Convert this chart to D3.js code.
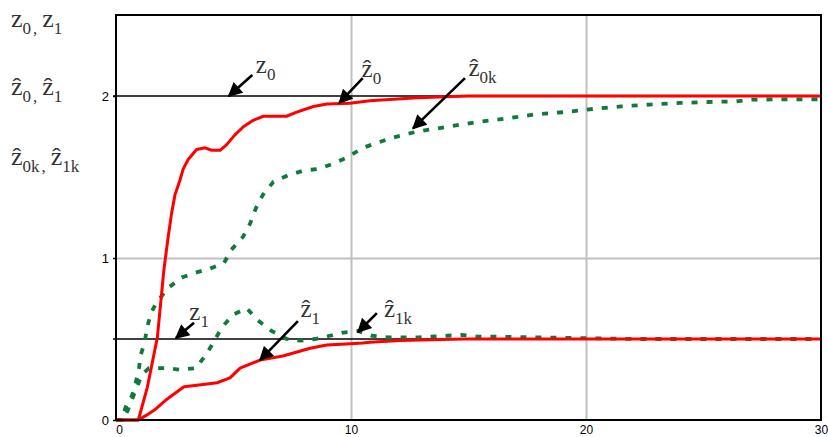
<!DOCTYPE html>
<html><head><meta charset="utf-8">
<script src="https://cdn.jsdelivr.net/npm/d3@7"></script>
<style>
body{margin:0;background:#fff;}
svg{display:block;}
</style></head>
<body>
<svg id="c" width="828" height="437"></svg>
<script>
// ---- data ----
const xTicks = [0, 10, 20, 30];
const yTicks = [0, 1, 2];
const z0Level = 2.0;
const z1Level = 0.5;
// z0 hat (red, upper)
const z0hatT = [0,0.95,1.33,1.76,2.04,2.22,2.37,2.51,2.72,2.86,3.08,3.43,3.79,4.07,4.43,4.71,5.06,5.42,5.84,6.27,7.26,7.69,8.4,8.97,9.96,10.8,12.65,14.0,15.0,30];
const z0hatV = [0,0,0.2,0.51,0.93,1.13,1.28,1.39,1.48,1.55,1.61,1.67,1.68,1.665,1.665,1.70,1.76,1.81,1.85,1.875,1.875,1.90,1.935,1.95,1.955,1.97,1.988,1.995,2.0,2.0];
// z1 hat (red, lower)
const z1hatT = [0,0.95,1.3,1.62,2.18,2.89,3.53,4.3,4.85,5.28,6.13,7.1,8.26,8.97,9.8,10.5,10.8,12.1,14.8,30];
const z1hatV = [0,0,0.03,0.06,0.13,0.205,0.216,0.23,0.26,0.32,0.37,0.395,0.443,0.463,0.469,0.475,0.48,0.49,0.5,0.5];
// z0k hat (green dashed, upper)
const z0kT = [0,0.25,0.41,0.68,0.84,0.98,1.05,1.22,1.32,1.49,1.74,2.26,2.8,3.4,4.0,4.6,4.9,5.4,5.7,5.96,6.25,6.7,7.3,8.0,8.6,9.2,9.83,10.5,11.7,12.8,14.1,15.4,16.55,17.76,19.04,20.3,21.5,22.7,24.0,25.2,26.4,27.05,30];
const z0kV = [0,0,0.08,0.15,0.23,0.32,0.40,0.48,0.57,0.66,0.73,0.82,0.88,0.91,0.935,0.97,1.05,1.13,1.21,1.31,1.39,1.47,1.51,1.54,1.55,1.58,1.62,1.68,1.74,1.78,1.81,1.84,1.86,1.885,1.90,1.92,1.936,1.947,1.957,1.963,1.967,1.978,1.98];
// z1k hat (green dashed, lower)
const z1kT = [0,0.3,0.5,0.8,1.1,1.4,1.62,2.18,2.75,3.39,3.82,4.15,4.5,4.98,5.56,6.04,6.62,7.26,7.83,8.47,9.1,9.67,10.3,10.9,11.6,12.9,13.4,14.1,14.7,15.4,16,18,20,22,30];
const z1kV = [0,0,0.06,0.17,0.28,0.32,0.32,0.32,0.31,0.32,0.40,0.48,0.57,0.65,0.69,0.615,0.55,0.50,0.49,0.50,0.52,0.54,0.55,0.52,0.51,0.51,0.515,0.52,0.525,0.515,0.515,0.51,0.505,0.5,0.5];
// annotations
const annNames = ["z0","z0hat","z0khat","z1","z1hat","z1khat"];
const annSub   = ["0","0","0k","1","1","1k"];
const annHat   = [false,true,true,false,true,true];
const annTip   = [[4.8,2.0],[9.5,1.957],[12.64,1.80],[2.55,0.506],[6.13,0.37],[10.3,0.543]];
const annTail  = [[5.8,2.13],[10.5,2.11],[14.85,2.11],[3.32,0.60],[7.74,0.61],[11.1,0.66]];
const annLabel = [[5.95,2.14],[10.45,2.12],[15.0,2.125],[3.12,0.62],[7.85,0.635],[11.4,0.635]];
// left-hand axis titles
const leftRows = [["z","0","z","1"],["ẑ","0","ẑ","1"],["ẑ","0k","ẑ","1k"]];

// ---- drawing ----
const svg = d3.select("#c");
const x = d3.scaleLinear().domain([0,30]).range([116,821]);
const y = d3.scaleLinear().domain([0,2.5]).range([420,15]);
const serif = "'Liberation Serif','DejaVu Serif',serif";
const sans = "'Liberation Sans',Arial,sans-serif";

// gridlines
svg.append("g").attr("transform","translate(0,420)")
  .call(d3.axisBottom(x).tickValues([10,20]).tickSize(-405).tickFormat(""))
  .call(g=>{g.select(".domain").remove();g.selectAll("line").attr("stroke","#c0c0c0").attr("stroke-width",2);});
svg.append("g").attr("transform","translate(116,0)")
  .call(d3.axisLeft(y).tickValues([1]).tickSize(-705).tickFormat(""))
  .call(g=>{g.select(".domain").remove();g.selectAll("line").attr("stroke","#c0c0c0").attr("stroke-width",2);});

// constant reference lines
[z0Level,z1Level].forEach(v=>{
  svg.append("line").attr("x1",x(0)-3).attr("x2",x(30)).attr("y1",y(v)).attr("y2",y(v))
    .attr("stroke","#000").attr("stroke-width",1.6);
});

const line = d3.line().x(d=>x(d[0])).y(d=>y(d[1]));
const zipTV = (T,V)=>T.map((t,i)=>[t,V[i]]);

// green dashed
[[z0kT,z0kV],[z1kT,z1kV]].forEach(([T,V])=>{
  svg.append("path").attr("d",line(zipTV(T,V))).attr("fill","none")
    .attr("stroke","#0f7a3c").attr("stroke-width",3.8).attr("stroke-dasharray","6,9");
});
// red solid
[[z0hatT,z0hatV],[z1hatT,z1hatV]].forEach(([T,V])=>{
  svg.append("path").attr("d",line(zipTV(T,V))).attr("fill","none")
    .attr("stroke","#ff0000").attr("stroke-width",3).attr("stroke-linejoin","round");
});

// frame
svg.append("rect").attr("x",x(0)).attr("y",y(2.5)).attr("width",x(30)-x(0)).attr("height",y(0)-y(2.5))
  .attr("fill","none").attr("stroke","#000").attr("stroke-width",2);

// axes labels
const xa = svg.append("g").attr("transform","translate(0,420)")
  .call(d3.axisBottom(x).tickValues(xTicks).tickSize(0).tickPadding(5).tickFormat(d3.format("d")));
xa.select(".domain").remove();
xa.selectAll("text").attr("font-family",sans).attr("font-size",12).attr("fill","#000")
  .attr("dx", d=> d===0 ? 3 : 0);
const ya = svg.append("g").attr("transform","translate(116,0)")
  .call(d3.axisLeft(y).tickValues(yTicks).tickSize(3).tickPadding(4).tickFormat(d3.format("d")));
ya.select(".domain").remove();
ya.selectAll("line").attr("stroke","#000").attr("stroke-width",1.5);
ya.selectAll("text").attr("font-family",sans).attr("font-size",13).attr("fill","#000");

// arrows
const defs = svg.append("defs");
defs.append("marker").attr("id","ah").attr("viewBox","0 0 10 10").attr("refX",9).attr("refY",5)
  .attr("markerWidth",6).attr("markerHeight",5.5).attr("orient","auto").attr("markerUnits","strokeWidth")
  .append("path").attr("d","M0,0 L10,5 L0,10 Z").attr("fill","#000");
annNames.forEach((n,i)=>{
  svg.append("line")
    .attr("x1",x(annTail[i][0])).attr("y1",y(annTail[i][1]))
    .attr("x2",x(annTip[i][0])).attr("y2",y(annTip[i][1]))
    .attr("stroke","#000").attr("stroke-width",2.6).attr("marker-end","url(#ah)");
  const t = svg.append("text").attr("x",x(annLabel[i][0])).attr("y",y(annLabel[i][1]))
    .attr("font-family",serif).attr("fill","#333");
  t.append("tspan").attr("font-size",25).text(annHat[i] ? "ẑ" : "z");
  t.append("tspan").attr("font-size",17).attr("dy",7).text(annSub[i]);
});

// left titles
const rowY = [27,95,165];
leftRows.forEach((r,i)=>{
  const t = svg.append("text").attr("x",11).attr("y",rowY[i]).attr("font-family",serif).attr("fill","#333");
  t.append("tspan").attr("font-size",26).text(r[0]);
  t.append("tspan").attr("font-size",17).attr("dy",7).text(r[1]);
  t.append("tspan").attr("font-size",17).attr("dx",2).text(",");
  t.append("tspan").attr("font-size",26).attr("dx",5).attr("dy",-7).text(r[2]);
  t.append("tspan").attr("font-size",17).attr("dy",7).text(r[3]);
});
</script>
</body></html>
